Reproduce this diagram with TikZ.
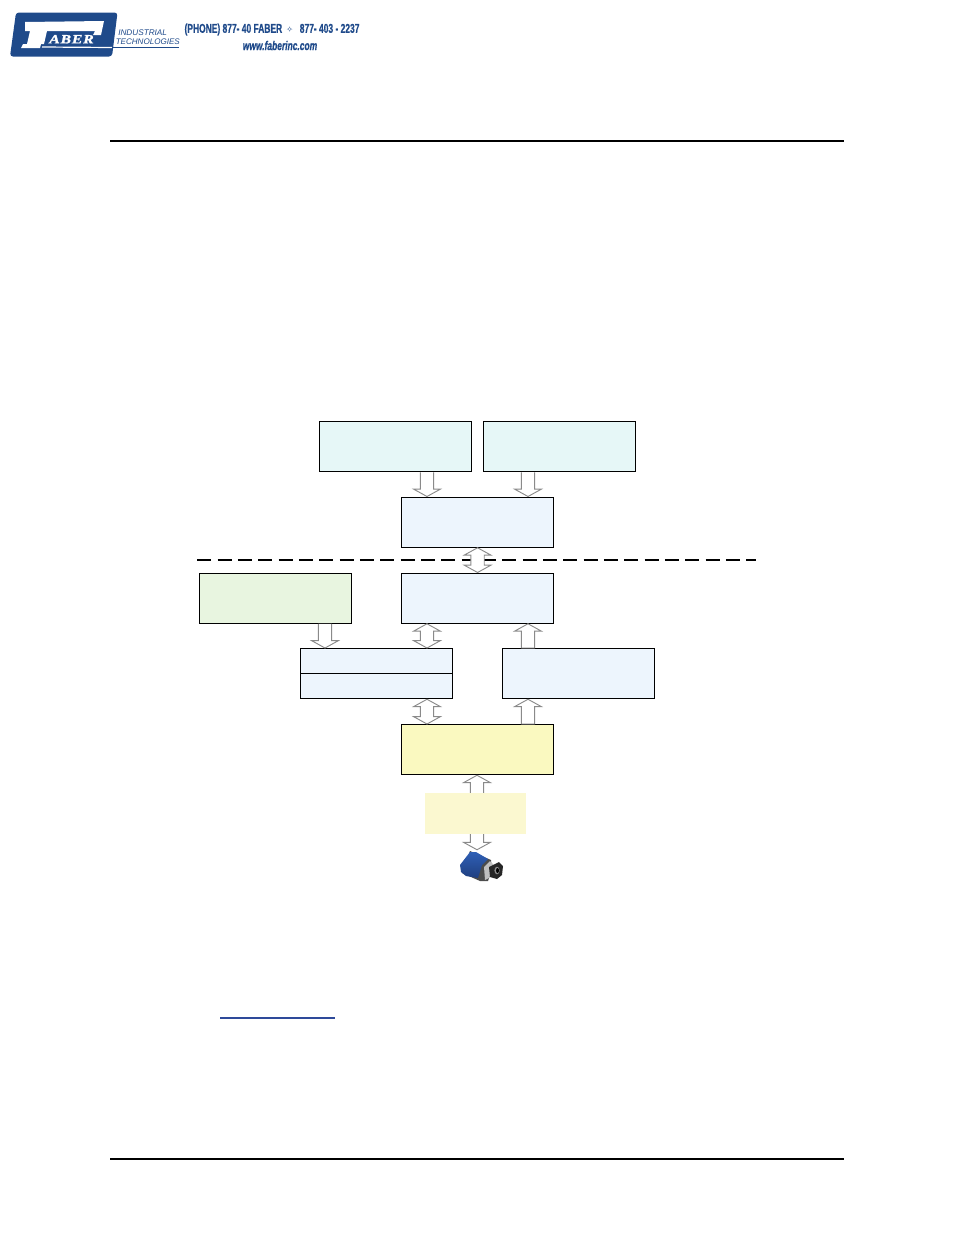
\documentclass[tikz,border=0pt]{standalone}
\usepackage{fontspec}
\setmainfont{Liberation Sans}
\newfontfamily\serifbold{Liberation Serif}
\newfontfamily\symfont{DejaVu Sans}
\definecolor{tealbox}{HTML}{E6F7F7}
\definecolor{bluebox}{HTML}{EDF5FD}
\definecolor{greenbox}{HTML}{E8F5E0}
\definecolor{yellowbox}{HTML}{FAF9C0}
\definecolor{paleyellow}{HTML}{FBF8D0}
\definecolor{logoblue}{HTML}{1F4A8A}
\definecolor{linkblue}{HTML}{2E4A9A}
\definecolor{arrowgray}{HTML}{8A8A8A}
\definecolor{camtop}{HTML}{2F5FB5}
\definecolor{cambottom}{HTML}{1F3F80}
\tikzset{
  box/.style={draw=black,line width=0.85pt,minimum width=114pt,minimum height=37.6pt,inner sep=0pt,anchor=north west},
  flow/.style={draw=arrowgray,fill=white,line width=0.7pt,line join=miter},
  rule/.style={draw=black,line width=1.5pt},
  logotext/.style={text=logoblue,inner sep=0pt},
}
\newcommand{\arrowdown}[2]{\path (#1) coordinate (p) (#2) coordinate (q);
  \draw[flow] ([xshift=-5pt]p) -- ([xshift=-5pt,yshift=5.5pt]q) -- ([xshift=-10pt,yshift=5.5pt]q) -- (q) -- ([xshift=10pt,yshift=5.5pt]q) -- ([xshift=5pt,yshift=5.5pt]q) -- ([xshift=5pt]p);}
\newcommand{\arrowup}[2]{\path (#1) coordinate (p) (#2) coordinate (q);
  \draw[flow] ([xshift=-5pt]p) -- ([xshift=-5pt,yshift=-5.5pt]q) -- ([xshift=-10pt,yshift=-5.5pt]q) -- (q) -- ([xshift=10pt,yshift=-5.5pt]q) -- ([xshift=5pt,yshift=-5.5pt]q) -- ([xshift=5pt]p) -- cycle;}
\newcommand{\arrowboth}[2]{\path (#1) coordinate (p) (#2) coordinate (q);
  \draw[flow] (p) -- ([xshift=-10pt,yshift=-5.5pt]p) -- ([xshift=-5pt,yshift=-5.5pt]p) -- ([xshift=-5pt,yshift=5.5pt]q) -- ([xshift=-10pt,yshift=5.5pt]q) -- (q) -- ([xshift=10pt,yshift=5.5pt]q) -- ([xshift=5pt,yshift=5.5pt]q) -- ([xshift=5pt,yshift=-5.5pt]p) -- ([xshift=10pt,yshift=-5.5pt]p) -- cycle;}
\begin{document}
\begin{tikzpicture}[x=0.75pt,y=-0.75pt]
\useasboundingbox (0,0) rectangle (954,1235);
% logo
\fill[logoblue,rounded corners=2.2pt] (16,12.5) -- (117.5,12.5) -- (112,56.5) -- (10,56.5) -- cycle;
\fill[white] (25,22) -- (104,21) -- (101,35) -- (93,35) -- (95,31) -- (47,31) -- (44,44) -- (41,44) -- (40,48) -- (21,48) -- (23,44) -- (27,44) -- (30,31) -- (25,31) -- cycle;
\fill[white] (36,36) -- (43,36) -- (42,40) -- (35,40) -- cycle;
\node[inner sep=0pt,text=white] (aber) at (71.5,39.2) {\serifbold\bfseries\itshape\fontsize{9.5pt}{11pt}\selectfont\addfontfeature{FakeStretch=1.25,LetterSpace=6,FakeBold=1.5}ABER};
\draw[white,line width=0.9pt] (42,47) -- (112,47.5);
\draw[logoblue,line width=0.9pt] (112,47.5) -- (179,47.5);
\node[logotext,anchor=west] (ind) at (118,32.5) {\itshape\fontsize{6.15pt}{7pt}\selectfont INDUSTRIAL};
\node[logotext,anchor=west] (tech) at (115.5,42) {\itshape\fontsize{6.05pt}{7pt}\selectfont TECHNOLOGIES};
\node[logotext] (phone) at (272,29.5) {\bfseries\fontsize{9.6pt}{10pt}\selectfont\addfontfeature{FakeStretch=0.66,FakeBold=0.6}(PHONE) 877- 40 FABER\,\,{\symfont\fontsize{6pt}{7pt}\selectfont ✧}\,\, 877- 403 - 2237};
\node[logotext] (web) at (280,45.5) {\bfseries\itshape\fontsize{9.6pt}{10pt}\selectfont\addfontfeature{FakeStretch=0.66,FakeBold=0.6}www.faberinc.com};
% rules
\coordinate (rtl) at (110,141); \coordinate (rtr) at (844,141);
\coordinate (rbl) at (110,1159); \coordinate (rbr) at (844,1159);
\draw[rule] (rtl) -- (rtr);
\draw[rule] (rbl) -- (rbr);
% boxes
\node[box,fill=tealbox] (a) at (319,421) {};
\node[box,fill=tealbox] (b) at (483,421) {};
\node[box,fill=bluebox] (c) at (401,496.5) {};
\node[box,fill=greenbox] (d) at (199,572.5) {};
\node[box,fill=bluebox] (e) at (401,572.5) {};
\node[box,fill=bluebox] (f) at (300,648) {};
\node[box,fill=bluebox] (g) at (502,648) {};
\node[box,fill=yellowbox] (h) at (401,724) {};
\draw[black,line width=0.85pt] (f.west) -- (f.east);
% dashed separator
\coordinate (dl) at (197.3,559.5); \coordinate (dr) at (756,559.5);
\draw[black,line width=1.5pt,dash pattern=on 10.5pt off 4.75pt] (dl) -- (dr);
% camera frame (holds the free end of the lowest arrow)
\node[inner sep=0pt,minimum width=32pt,minimum height=24pt] (cam) at (481,866) {};
% arrows
\arrowdown{a.south -| 427,0}{c.north -| 427,0}
\arrowdown{b.south -| 528,0}{c.north -| 528,0}
\arrowboth{c.south}{e.north}
\arrowdown{d.south -| 325,0}{f.north -| 325,0}
\arrowboth{e.south -| 427,0}{f.north -| 427,0}
\arrowboth{f.south -| 427,0}{h.north -| 427,0}
\arrowup{g.north -| 528,0}{e.south -| 528,0}
\arrowup{h.north -| 528,0}{g.south -| 528,0}
\arrowboth{h.south -| 477,0}{cam.north -| 477,0}
% pale box over the lowest arrow
\node[fill=paleyellow,inner sep=0pt,minimum width=75.7pt,minimum height=30.7pt,anchor=north west] (i) at (425,793) {};
% camera
\fill[black!70] (470,851) -- (491,860) -- (492,870) -- (488,881) -- (480,881) -- (462,873) -- cycle;
\shade[top color=camtop,bottom color=cambottom] (460,865) -- (470,852) -- (476,852) -- (488,859) -- (482,865) -- (478,878) -- (466,876) -- (461,872) -- cycle;
\fill[black!25] (484,867) -- (490,861) -- (494,865) -- (489,878) -- (485,880) -- cycle;
\fill[black!85] (489,867) -- (499,862) -- (503,866) -- (502,875) -- (497,879) -- (490,877) -- cycle;
\fill[black!45] (497,870.5) ellipse [x radius=2.6,y radius=3.8];
\fill[black] (497.5,870.5) ellipse [x radius=1.5,y radius=2.5];
% link underline
\coordinate (ll) at (220,1018); \coordinate (lr) at (335,1018);
\draw[linkblue,line width=0.8pt] (ll) -- (lr);
\end{tikzpicture}
\end{document}
